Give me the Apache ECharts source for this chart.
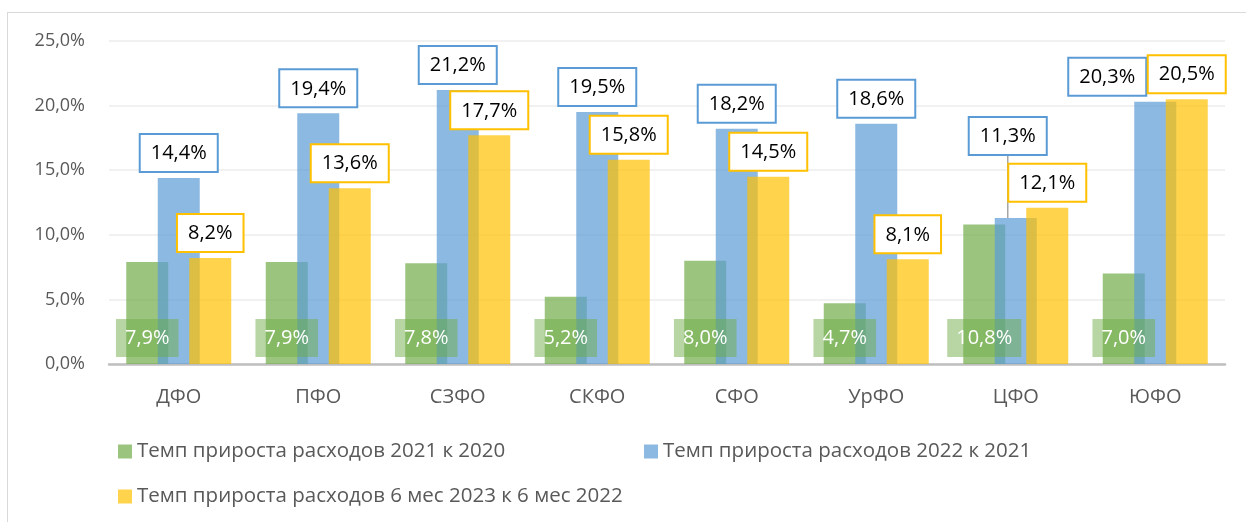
<!DOCTYPE html>
<html>
<head>
<meta charset="utf-8">
<script src="https://cdn.jsdelivr.net/npm/echarts@6/dist/echarts.min.js"></script>
<style>
  html, body { margin: 0; padding: 0; background: #fff; }
  #frame { position: absolute; left: 7px; top: 12px; width: 1260px; height: 530px; border-left: 1px solid #D9D9D9; border-top: 1px solid #D9D9D9; }
  #chart { position: absolute; left: 0; top: 0; width: 1246px; height: 522px; }
</style>
</head>
<body>
<div id="frame"></div>
<div id="chart"></div>
<script>
// data
const regions = ['ДФО', 'ПФО', 'СЗФО', 'СКФО', 'СФО', 'УрФО', 'ЦФО', 'ЮФО']
const growth2021 = [7.9, 7.9, 7.8, 5.2, 8.0, 4.7, 10.8, 7.0]
const growth2022 = [14.4, 19.4, 21.2, 19.5, 18.2, 18.6, 11.3, 20.3]
const growth2023h1 = [8.2, 13.6, 17.7, 15.8, 14.5, 8.1, 12.1, 20.5]
const seriesNames = [
  'Темп прироста расходов 2021 к 2020',
  'Темп прироста расходов 2022 к 2021',
  'Темп прироста расходов 6 мес 2023 к 6 мес 2022'
]

const font = 'Open Sans'
const fmt = v => v.toFixed(1).replace('.', ',') + '%'

// some labels in the original were dragged aside
const blueShift = { 6: [-8, -57], 7: [-48, 0] }

const chart = echarts.init(document.getElementById('chart'))

const boxLabel = (border) => ({
  show: true,
  position: 'top',
  distance: 7,
  formatter: p => fmt(p.value),
  fontFamily: font,
  fontSize: 20,
  lineHeight: 25,
  color: '#000',
  backgroundColor: '#fff',
  borderColor: border,
  borderWidth: 2,
  padding: [6, 10, 5, 10]
})

const legendBase = {
  itemWidth: 14,
  itemHeight: 14,
  itemGap: 0,
  icon: 'rect',
  textStyle: { fontFamily: font, fontSize: 20.5, color: '#595959' },
  selectedMode: false
}

chart.setOption({
  animation: false,
  textStyle: { fontFamily: font },
  grid: { left: 109, right: 21, top: 41, bottom: 158 },
  legend: [
    Object.assign({}, legendBase, { data: [seriesNames[0]], left: 113, top: 436 }),
    Object.assign({}, legendBase, { data: [seriesNames[1]], left: 639, top: 436 }),
    Object.assign({}, legendBase, { data: [seriesNames[2]], left: 113, top: 481 })
  ],
  xAxis: {
    type: 'category',
    data: regions,
    axisTick: { show: false },
    axisLine: { lineStyle: { color: '#BFBFBF', width: 2.5 } },
    axisLabel: { fontFamily: font, fontSize: 20, color: '#595959', margin: 23 }
  },
  yAxis: {
    type: 'value',
    min: 0,
    max: 25,
    interval: 5,
    axisLabel: { fontFamily: font, fontSize: 18, color: '#595959', margin: 24, formatter: v => fmt(v) },
    splitLine: { lineStyle: { color: '#ECECEC', width: 1.5 } }
  },
  series: [
    {
      name: seriesNames[0],
      type: 'bar',
      barWidth: 42,
      barGap: '-25%',
      data: growth2021,
      itemStyle: { color: 'rgba(112,173,71,0.7)' },
      label: {
        show: true,
        position: 'insideBottom',
        distance: 7,
        formatter: p => fmt(p.value),
        fontFamily: font,
        fontSize: 20,
        lineHeight: 24,
        color: '#fff',
        backgroundColor: 'rgba(112,173,71,0.5)',
        padding: [7, 9, 7, 9]
      }
    },
    {
      name: seriesNames[1],
      type: 'bar',
      barWidth: 42,
      barGap: '-25%',
      data: growth2022.map((v, i) => i === 6 ? { value: v, labelLine: { show: true } } : v),
      itemStyle: { color: 'rgba(91,155,213,0.7)' },
      label: boxLabel('#5B9BD5'),
      labelLine: { show: false, lineStyle: { color: '#A6A6A6', width: 1.5 } },
      labelLayout: p => {
        const s = blueShift[p.dataIndex]
        return s ? { dx: s[0], dy: s[1] } : {}
      }
    },
    {
      name: seriesNames[2],
      type: 'bar',
      barWidth: 42,
      barGap: '-25%',
      data: growth2023h1,
      itemStyle: { color: 'rgba(255,192,0,0.7)' },
      label: boxLabel('#FFC000')
    }
  ]
})
</script>
</body>
</html>
